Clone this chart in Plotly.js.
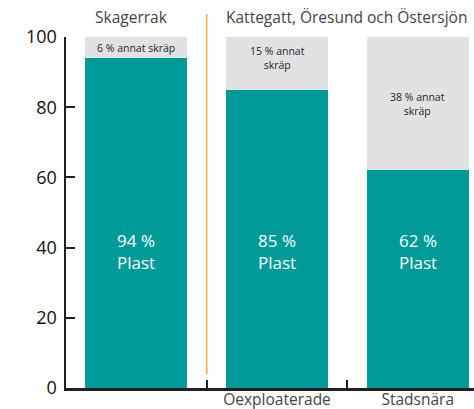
<!DOCTYPE html>
<html>
<head>
<meta charset="utf-8">
<script src="https://cdn.plot.ly/plotly-3.0.1.min.js"></script>
<style>
html, body { margin: 0; padding: 0; background: #ffffff; }
#chart { width: 474px; height: 409px; }
</style>
</head>
<body>
<div id="chart"></div>
<script>
// ---- data ----
const groups = ['Skagerrak', 'Kattegatt, Öresund och Östersjön'];
const sites = ['', 'Oexploaterade', 'Stadsnära'];
const plastPct = [94, 85, 62];
const otherPct = [6, 15, 38];
const yTicks = [0, 20, 40, 60, 80, 100];

// ---- styling ----
const FONT = 'Open Sans, sans-serif';
const TEAL = '#009b98';
const GREY = '#e1e2e4';
const AXIS = '#231f20';
const xs = sites.map((_, i) => i);

const traces = [
  {
    type: 'bar', x: xs, y: plastPct, marker: { color: TEAL },
    hoverinfo: 'skip', showlegend: false
  },
  {
    type: 'bar', x: xs, y: otherPct, marker: { color: GREY },
    hoverinfo: 'skip', showlegend: false
  },
  {
    // invisible trace to carry the category labels on an overlay axis
    type: 'scatter', x: xs, y: plastPct, xaxis: 'x2', mode: 'none',
    hoverinfo: 'skip', showlegend: false
  }
];

const annotations = [];
plastPct.forEach((p, i) => {
  annotations.push({
    x: i, y: 39, xref: 'x', yref: 'y', showarrow: false,
    text: p + ' %<br>Plast',
    font: { family: FONT, size: 17, color: '#ffffff' }
  });
});
otherPct.forEach((o, i) => {
  annotations.push({
    x: i, y: plastPct[i] + o / 2, xref: 'x', yref: 'y', showarrow: false,
    yshift: (o > 10 && o < 20) ? 5 : 0,
    text: o < 10 ? o + ' % annat skräp' : o + ' % annat<br>skräp',
    font: { family: FONT, size: 10.5, color: '#231f20' }
  });
});
// group headers
annotations.push({
  x: -0.3625, xref: 'x', xanchor: 'left', xshift: 8,
  y: 1.056, yref: 'paper', yanchor: 'middle', showarrow: false,
  text: groups[0], font: { family: FONT, size: 15.5, color: '#444444' }
});
annotations.push({
  x: 0.6375, xref: 'x', xanchor: 'left', xshift: -2,
  y: 1.056, yref: 'paper', yanchor: 'middle', showarrow: false,
  text: groups[1], font: { family: FONT, size: 15.5, color: '#444444' }
});

const layout = {
  width: 474, height: 409,
  margin: { l: 66, r: 0, t: 37, b: 21, pad: 0 },
  paper_bgcolor: '#ffffff', plot_bgcolor: '#ffffff',
  barmode: 'stack', bargap: 0.275,
  font: { family: FONT, color: '#231f20' },
  xaxis: {
    range: [-0.5, 2.4], fixedrange: true,
    showgrid: false, zeroline: false,
    showline: true, linecolor: AXIS, linewidth: 2.5,
    tickvals: [0.5, 1.5], ticks: 'inside', ticklen: 8, tickwidth: 2, tickcolor: AXIS,
    showticklabels: false
  },
  xaxis2: {
    overlaying: 'x', matches: 'x', range: [-0.5, 2.4],
    showgrid: false, zeroline: false, showline: false,
    tickvals: xs, ticktext: sites, ticks: '',
    ticklabelstandoff: 0,
    tickfont: { family: FONT, size: 15.5, color: '#444444' },
    side: 'bottom'
  },
  yaxis: {
    range: [0, 100], fixedrange: true,
    showgrid: false, zeroline: false,
    showline: true, linecolor: AXIS, linewidth: 2.5,
    tickvals: yTicks, ticks: 'inside', ticklen: 9, tickwidth: 2, tickcolor: AXIS,
    ticklabelstandoff: 3,
    tickfont: { family: FONT, size: 18, color: '#111111' }
  },
  shapes: [{
    type: 'line', xref: 'x', yref: 'paper',
    x0: 0.5, x1: 0.5, y0: 0.04, y1: 1.065,
    line: { color: '#f5a33a', width: 1.5 }
  }],
  annotations: annotations
};

Plotly.newPlot('chart', traces, layout, { staticPlot: true, displayModeBar: false });
</script>
</body>
</html>
